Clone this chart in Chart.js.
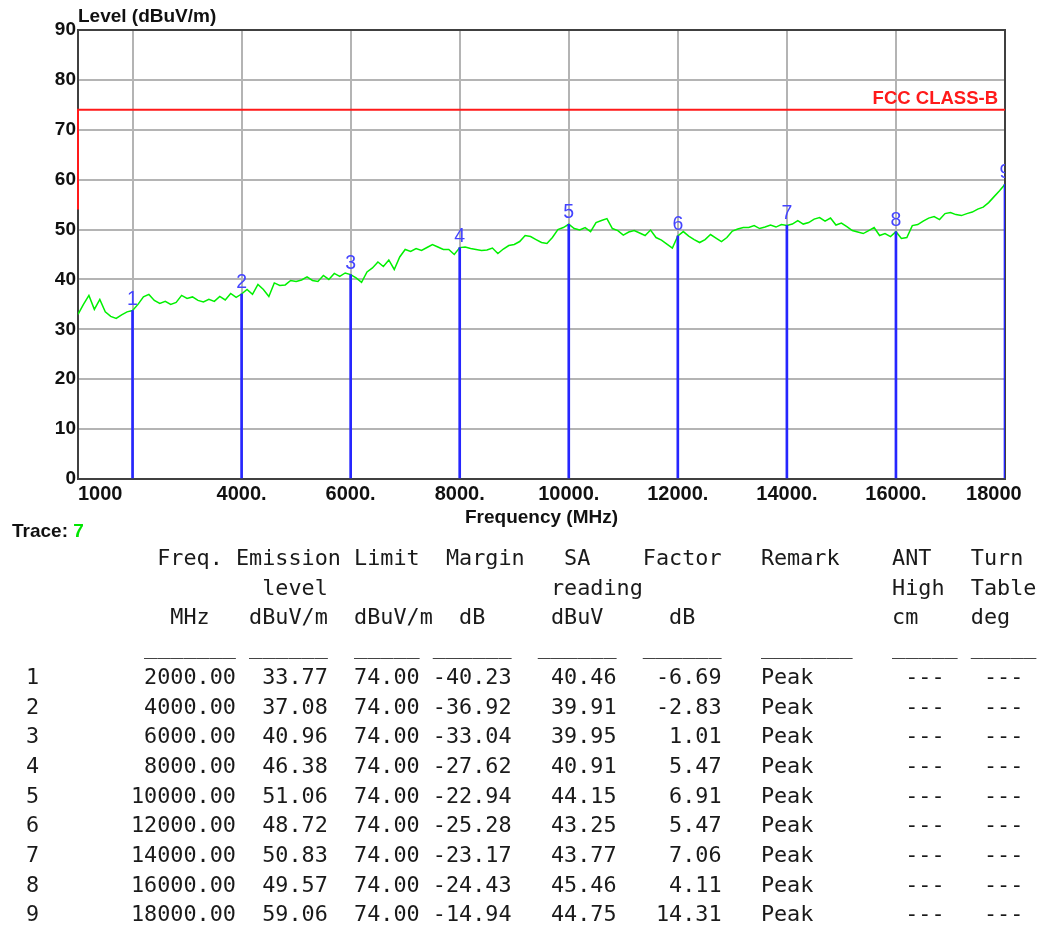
<!DOCTYPE html>
<html>
<head>
<meta charset="utf-8">
<script src="https://cdn.jsdelivr.net/npm/chart.js@4.4.1/dist/chart.umd.min.js"></script>
<style>
  html, body { margin: 0; padding: 0; background: #ffffff; }
  #wrap { position: absolute; left: 0; top: 0; width: 1049px; height: 545px; }
  #trace { position: absolute; left: 12px; top: 521px; font: bold 19px "Liberation Sans", Arial, sans-serif; line-height: 19px; color: #111; }
  #trace span { color: #00e600; }
  #tbl { position: absolute; left: 26px; top: 543px; margin: 0; font-family: "DejaVu Sans Mono", monospace; font-size: 21.8px; line-height: 29.7px; color: #1a1a1a; white-space: pre; }
</style>
</head>
<body>
<div id="wrap"><canvas id="c"></canvas></div>
<div id="trace">Trace: <span id="traceNo"></span></div>
<pre id="tbl"></pre>
<script>
// ---------------- data ----------------
const traceNo = 7;
const yTitle = 'Level (dBuV/m)';
const xTitle = 'Frequency (MHz)';
const limitName = 'FCC CLASS-B';

const xTickValues = [1000, 2000, 4000, 6000, 8000, 10000, 12000, 14000, 16000, 18000];
const xTickLabels = ['1000', '', '4000.', '6000.', '8000.', '10000.', '12000.', '14000.', '16000.', '18000'];

const limitFreq = [1000, 1000, 18000];
const limitLevel = [54, 74, 74];

// measured trace, one reading every 100 MHz from 1000 MHz
const traceStartMHz = 1000;
const traceStepMHz = 100;
const traceLevel = [
  33.0, 35.0, 36.8, 34.0, 36.0, 33.5, 32.6, 32.2, 32.9, 33.5,
  33.77, 35.0, 36.5, 37.0, 35.8, 35.2, 35.6, 35.0, 35.4, 36.8,
  36.2, 36.5, 35.8, 35.5, 36.0, 35.6, 36.6, 35.9, 37.2, 36.4,
  37.08, 38.0, 37.0, 39.0, 38.0, 36.6, 39.3, 38.8, 38.9, 39.8,
  39.6, 39.9, 40.5, 39.8, 39.6, 40.8, 40.0, 41.2, 40.6, 41.3,
  40.96, 40.3, 39.4, 41.5, 42.3, 43.5, 42.6, 43.9, 42.0, 44.5,
  46.0, 45.6, 46.2, 45.8, 46.4, 47.0, 46.5, 46.0, 46.0, 45.0,
  46.38, 46.5, 46.2, 46.0, 45.8, 45.9, 46.3, 45.2, 46.1, 46.8,
  47.0, 47.6, 48.8, 48.6, 48.0, 47.4, 47.2, 48.4, 50.0, 50.4,
  51.06, 50.2, 49.9, 50.4, 49.6, 51.4, 51.8, 52.2, 50.2, 49.8,
  48.9, 49.5, 49.8, 49.3, 48.8, 49.9, 48.4, 47.9, 47.1, 46.3,
  48.72, 49.6, 48.7, 48.0, 47.4, 48.0, 49.0, 48.3, 47.6, 48.4,
  49.7, 50.1, 50.4, 50.4, 50.8, 50.2, 50.5, 50.9, 50.5, 51.0,
  50.83, 51.1, 51.8, 51.1, 51.4, 52.1, 52.4, 51.7, 52.3, 50.9,
  51.3, 50.6, 49.8, 49.5, 49.2, 49.8, 50.4, 48.8, 49.2, 48.6,
  49.57, 48.2, 48.4, 50.8, 51.0, 51.7, 52.3, 52.6, 52.0, 53.2,
  53.4, 53.0, 52.8, 53.2, 53.5, 54.1, 54.5, 55.4, 56.6, 57.8,
  59.06
];

// marker table
const markerNo = ['1', '2', '3', '4', '5', '6', '7', '8', '9'];
const markerFreq = [2000, 4000, 6000, 8000, 10000, 12000, 14000, 16000, 18000];
const emissionLevel = [33.77, 37.08, 40.96, 46.38, 51.06, 48.72, 50.83, 49.57, 59.06];
const limitAt = [74.00, 74.00, 74.00, 74.00, 74.00, 74.00, 74.00, 74.00, 74.00];
const marginDb = [-40.23, -36.92, -33.04, -27.62, -22.94, -25.28, -23.17, -24.43, -14.94];
const saReading = [40.46, 39.91, 39.95, 40.91, 44.15, 43.25, 43.77, 45.46, 44.75];
const factorDb = [-6.69, -2.83, 1.01, 5.47, 6.91, 5.47, 7.06, 4.11, 14.31];
const remark = ['Peak', 'Peak', 'Peak', 'Peak', 'Peak', 'Peak', 'Peak', 'Peak', 'Peak'];
const antHigh = ['---', '---', '---', '---', '---', '---', '---', '---', '---'];
const turnTable = ['---', '---', '---', '---', '---', '---', '---', '---', '---'];

// ---------------- table text ----------------
function placeLine(items) {
  let s = '';
  items.forEach(([col, txt]) => { while (s.length < col) s += ' '; s += txt; });
  return s;
}
const us = n => '_'.repeat(n);
const lines = [];
lines.push(placeLine([[10, 'Freq.'], [16, 'Emission'], [25, 'Limit'], [32, 'Margin'], [41, 'SA'], [47, 'Factor'], [56, 'Remark'], [66, 'ANT'], [72, 'Turn']]));
lines.push(placeLine([[18, 'level'], [40, 'reading'], [66, 'High'], [72, 'Table']]));
lines.push(placeLine([[11, 'MHz'], [17, 'dBuV/m'], [25, 'dBuV/m'], [33, 'dB'], [40, 'dBuV'], [49, 'dB'], [66, 'cm'], [72, 'deg']]));
lines.push(placeLine([[9, us(7)], [17, us(6)], [25, us(5)], [31, us(6)], [39, us(6)], [47, us(6)], [56, us(7)], [66, us(5)], [72, us(5)]]));
for (let i = 0; i < markerNo.length; i++) {
  lines.push(placeLine([
    [0, markerNo[i]],
    [8, markerFreq[i].toFixed(2).padStart(8)],
    [18, emissionLevel[i].toFixed(2).padStart(5)],
    [25, limitAt[i].toFixed(2).padStart(5)],
    [31, marginDb[i].toFixed(2).padStart(6)],
    [40, saReading[i].toFixed(2).padStart(5)],
    [48, factorDb[i].toFixed(2).padStart(5)],
    [56, remark[i]],
    [67, antHigh[i]],
    [73, turnTable[i]]
  ]));
}
document.getElementById('tbl').textContent = lines.join('\n');
document.getElementById('traceNo').textContent = String(traceNo);

// ---------------- chart ----------------
const FONT = '"Liberation Sans", Arial, sans-serif';
const traceData = traceLevel.map((v, i) => ({ x: traceStartMHz + i * traceStepMHz, y: v }));
const limitData = limitFreq.map((f, i) => ({ x: f, y: limitLevel[i] }));
const markerData = markerFreq.map((f, i) => ({ x: f, y: emissionLevel[i] }));

const xLabelFor = v => {
  const i = xTickValues.indexOf(v);
  const t = i >= 0 ? xTickLabels[i] : '';
  if (i === 0) return ' '.repeat(8) + t;
  if (i === xTickValues.length - 1) return t + ' '.repeat(4);
  return t;
};

const overlayPlugin = {
  id: 'overlayText',
  afterDatasetsDraw(chart) {
    const ctx = chart.ctx;
    const a = chart.chartArea;
    ctx.save();
    ctx.beginPath();
    ctx.rect(a.left, a.top, a.right - a.left, a.bottom - a.top);
    ctx.clip();
    // marker numbers
    const meta = chart.getDatasetMeta(2);
    ctx.font = '19.5px ' + FONT;
    ctx.fillStyle = '#4444ff';
    ctx.textAlign = 'center';
    ctx.textBaseline = 'alphabetic';
    meta.data.forEach((el, i) => ctx.fillText(markerNo[i], el.x, el.y - 6));
    // limit name
    const yl = chart.scales.y.getPixelForValue(limitLevel[limitLevel.length - 1]);
    ctx.font = 'bold 18.5px ' + FONT;
    ctx.fillStyle = '#ff1a1a';
    ctx.textAlign = 'right';
    ctx.fillText(limitName, a.right - 7, yl - 6);
    ctx.restore();
  }
};

const edgeX = v => v === xTickValues[0] || v === xTickValues[xTickValues.length - 1];

new Chart(document.getElementById('c'), {
  type: 'line',
  data: {
    datasets: [
      { label: 'limit', data: limitData, xAxisID: 'x', yAxisID: 'y', borderColor: '#ff1a1a', borderWidth: 2, pointRadius: 0, tension: 0, fill: false, clip: false, order: 0 },
      { label: 'trace', data: traceData, xAxisID: 'x', yAxisID: 'y', borderColor: '#00f000', borderWidth: 1.5, pointRadius: 0, tension: 0, fill: false, order: 2 },
      { type: 'bar', label: 'markers', data: markerData, xAxisID: 'x', yAxisID: 'y', backgroundColor: '#2626ff', borderWidth: 0, barThickness: 2, grouped: false, order: 1 }
    ]
  },
  options: {
    responsive: true,
    maintainAspectRatio: false,
    animation: false,
    events: [],
    layout: { padding: { left: 0, right: 44, top: 0, bottom: 15.6 } },
    plugins: {
      legend: { display: false },
      tooltip: { enabled: false },
      title: {
        display: true, text: yTitle, align: 'start', fullSize: false, color: '#111',
        font: { family: FONT, size: 19, weight: 'bold' },
        padding: { top: 5.1, bottom: 2.1 }
      }
    },
    scales: {
      x: {
        type: 'linear', position: 'bottom', min: 1000, max: 18000, offset: false,
        afterBuildTicks: s => { s.ticks = xTickValues.map(v => ({ value: v })); },
        afterFit: s => { s.height = 50.4; },
        ticks: {
          autoSkip: false, maxRotation: 0, minRotation: 0, padding: 3, color: '#111',
          font: { family: FONT, size: 20, weight: 'bold' },
          callback: v => xLabelFor(v)
        },
        grid: { offset: false, drawTicks: false, lineWidth: 2, color: c => (c.tick && edgeX(c.tick.value)) ? 'rgba(0,0,0,0)' : '#b4b4b4' },
        border: { display: true, color: '#404040', width: 2 },
        title: { display: true, text: xTitle, color: '#111', font: { family: FONT, size: 19, weight: 'bold' }, padding: 0 }
      },
      y: {
        type: 'linear', position: 'left', min: 0, max: 90,
        afterFit: s => { s.width = 78; },
        ticks: { stepSize: 10, padding: 2, color: '#111', font: { family: FONT, size: 19, weight: 'bold' } },
        grid: { drawTicks: false, lineWidth: 2, color: c => (c.tick && (c.tick.value === 0 || c.tick.value === 90)) ? 'rgba(0,0,0,0)' : '#b4b4b4' },
        border: { display: true, color: '#404040', width: 2 }
      },
      x2: {
        type: 'linear', position: 'top', min: 1000, max: 18000, offset: false,
        afterFit: s => { s.height = 0; },
        ticks: { display: false }, grid: { display: false, drawTicks: false, offset: false },
        border: { display: true, color: '#404040', width: 2 }
      },
      y2: {
        type: 'linear', position: 'right', min: 0, max: 90,
        afterFit: s => { s.width = 0; },
        ticks: { display: false }, grid: { display: false, drawTicks: false },
        border: { display: true, color: '#404040', width: 2 }
      }
    }
  },
  plugins: [overlayPlugin]
});
</script>
</body>
</html>
